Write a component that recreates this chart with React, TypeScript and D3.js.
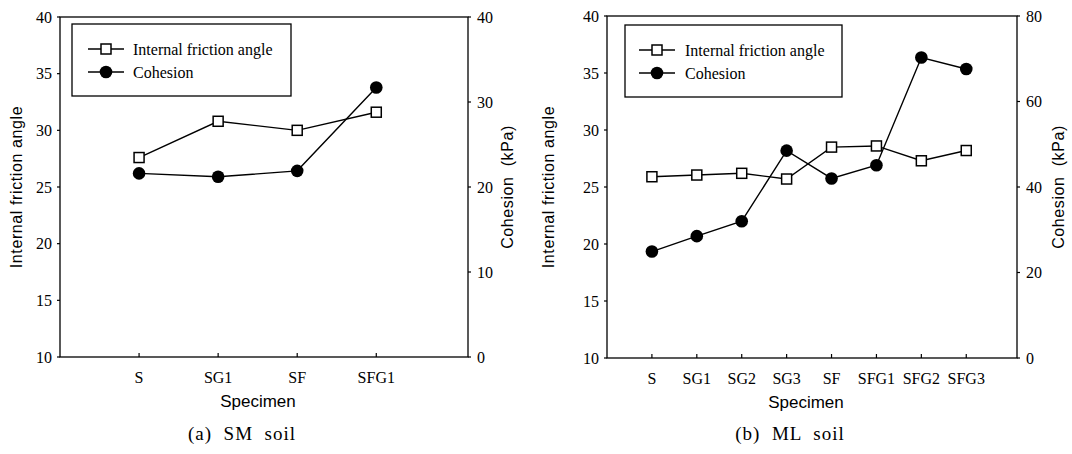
import React from "react";
import * as d3 from "d3";

const smCategories = ["S", "SG1", "SF", "SFG1"];
const smFriction = [27.6, 30.8, 30.0, 31.6];
const smCohesion = [21.6, 21.2, 21.9, 31.7];

const mlCategories = ["S", "SG1", "SG2", "SG3", "SF", "SFG1", "SFG2", "SFG3"];
const mlFriction = [25.9, 26.05, 26.2, 25.7, 28.5, 28.6, 27.3, 28.2];
const mlCohesion = [24.9, 28.5, 32.0, 48.5, 42.0, 45.1, 70.3, 67.6];

const frictionTicks = [10, 15, 20, 25, 30, 35, 40];
const smCohesionTicks = [0, 10, 20, 30, 40];
const mlCohesionTicks = [0, 20, 40, 60, 80];

const SERIF = "'Liberation Serif', 'Times New Roman', serif";
const SANS = "'Liberation Sans', Arial, sans-serif";

type PanelProps = {
  categories: string[];
  friction: number[];
  cohesion: number[];
  cohTicks: number[];
  cohMax: number;
  left: number;
  right: number;
  top: number;
  bottom: number;
  xMax: number;
  leftTitleOff: number;
  rightTitleOff: number;
  legend: { x0: number; x1: number; y0: number; y1: number; lx0: number; lx1: number; tx: number };
  caption: string;
};

function Panel(p: PanelProps) {
  const x = d3.scaleLinear().domain([0, p.xMax]).range([p.left, p.right]);
  const yL = d3.scaleLinear().domain([10, 40]).range([p.bottom, p.top]);
  const yR = d3.scaleLinear().domain([0, p.cohMax]).range([p.bottom, p.top]);
  const idx = p.categories.map((_, i) => i + 1);
  const fLine = d3.line<number>().x((_, i) => x(idx[i])).y((d) => yL(d));
  const cLine = d3.line<number>().x((_, i) => x(idx[i])).y((d) => yR(d));
  const midY = (p.top + p.bottom) / 2;
  const midX = (p.left + p.right) / 2;
  const lg = p.legend;
  const ly1 = lg.y0 + 25;
  const ly2 = lg.y0 + 48;
  const lmx = (lg.lx0 + lg.lx1) / 2;
  const sq = 10;
  return (
    <g>
      {/* frame */}
      <rect x={p.left} y={p.top} width={p.right - p.left} height={p.bottom - p.top} fill="none" stroke="#000" strokeWidth={1.3} />
      {/* left ticks */}
      {frictionTicks.map((t) => (
        <g key={"l" + t}>
          <line x1={p.left - 3} x2={p.left} y1={yL(t)} y2={yL(t)} stroke="#000" strokeWidth={1.2} />
          <text x={p.left - 8} y={yL(t)} dy="0.35em" textAnchor="end" fontFamily={SERIF} fontSize={16}>{t}</text>
        </g>
      ))}
      {p.cohTicks.map((t) => (
        <g key={"r" + t}>
          <line x1={p.right} x2={p.right + 3} y1={yR(t)} y2={yR(t)} stroke="#000" strokeWidth={1.2} />
          <text x={p.right + 9} y={yR(t)} dy="0.35em" textAnchor="start" fontFamily={SERIF} fontSize={16}>{t}</text>
        </g>
      ))}
      {p.categories.map((c, i) => (
        <g key={"x" + c}>
          <line x1={x(idx[i])} x2={x(idx[i])} y1={p.bottom} y2={p.bottom - 4} stroke="#000" strokeWidth={1.2} />
          <text x={x(idx[i])} y={p.bottom + 26} textAnchor="middle" fontFamily={SERIF} fontSize={16}>{c}</text>
        </g>
      ))}
      {/* axis titles */}
      <text transform={`translate(${p.left - p.leftTitleOff},${midY}) rotate(-90)`} dy="0.35em" textAnchor="middle" fontFamily={SANS} fontSize={16} letterSpacing={0.6}>Internal friction angle</text>
      <text transform={`translate(${p.right + p.rightTitleOff},${midY}) rotate(-90)`} dy="0.35em" textAnchor="middle" fontFamily={SANS} fontSize={16} letterSpacing={0.6} style={{ whiteSpace: "pre" }}>{"Cohesion  (kPa)"}</text>
      <text x={midX - 6} y={p.bottom + 50} textAnchor="middle" fontFamily={SANS} fontSize={17}>Specimen</text>
      <text x={midX - 22} y={440} textAnchor="middle" fontFamily={SERIF} fontSize={19} letterSpacing={1} style={{ whiteSpace: "pre" }}>{p.caption}</text>
      {/* lines */}
      <path d={fLine(p.friction) || ""} fill="none" stroke="#000" strokeWidth={1.4} />
      <path d={cLine(p.cohesion) || ""} fill="none" stroke="#000" strokeWidth={1.4} />
      {p.friction.map((v, i) => (
        <rect key={"f" + i} x={x(idx[i]) - sq / 2} y={yL(v) - sq / 2} width={sq} height={sq} fill="#fff" stroke="#000" strokeWidth={1.5} />
      ))}
      {p.cohesion.map((v, i) => (
        <circle key={"c" + i} cx={x(idx[i])} cy={yR(v)} r={6.3} fill="#000" />
      ))}
      {/* legend */}
      <rect x={lg.x0} y={lg.y0} width={lg.x1 - lg.x0} height={lg.y1 - lg.y0} fill="#fff" stroke="#000" strokeWidth={1.3} />
      <line x1={lg.lx0} x2={lg.lx1} y1={ly1} y2={ly1} stroke="#000" strokeWidth={1.4} />
      <rect x={lmx - sq / 2} y={ly1 - sq / 2} width={sq} height={sq} fill="#fff" stroke="#000" strokeWidth={1.5} />
      <text x={lg.tx} y={ly1} dy="0.35em" fontFamily={SERIF} fontSize={16}>Internal friction angle</text>
      <line x1={lg.lx0} x2={lg.lx1} y1={ly2} y2={ly2} stroke="#000" strokeWidth={1.4} />
      <circle cx={lmx} cy={ly2} r={6.3} fill="#000" />
      <text x={lg.tx} y={ly2} dy="0.35em" fontFamily={SERIF} fontSize={16}>Cohesion</text>
    </g>
  );
}

export default function App() {
  return (
    <svg width={1072} height={454} style={{ position: "absolute", left: 0, top: 0, background: "#fff" }}>
      <rect x={0} y={0} width={1072} height={454} fill="#fff" />
      <Panel
        categories={smCategories}
        friction={smFriction}
        cohesion={smCohesion}
        cohTicks={smCohesionTicks}
        cohMax={40}
        left={60}
        right={468}
        top={17}
        bottom={357}
        xMax={5.16}
        leftTitleOff={44}
        rightTitleOff={39}
        legend={{ x0: 72, x1: 291, y0: 24, y1: 96, lx0: 88, lx1: 124, tx: 133 }}
        caption={"(a)  SM  soil"}
      />
      <Panel
        categories={mlCategories}
        friction={mlFriction}
        cohesion={mlCohesion}
        cohTicks={mlCohesionTicks}
        cohMax={80}
        left={607}
        right={1017}
        top={16}
        bottom={358}
        xMax={9.13}
        leftTitleOff={59}
        rightTitleOff={41}
        legend={{ x0: 625, x1: 842, y0: 25, y1: 97, lx0: 639, lx1: 675, tx: 685 }}
        caption={"(b)  ML  soil"}
      />
    </svg>
  );
}
